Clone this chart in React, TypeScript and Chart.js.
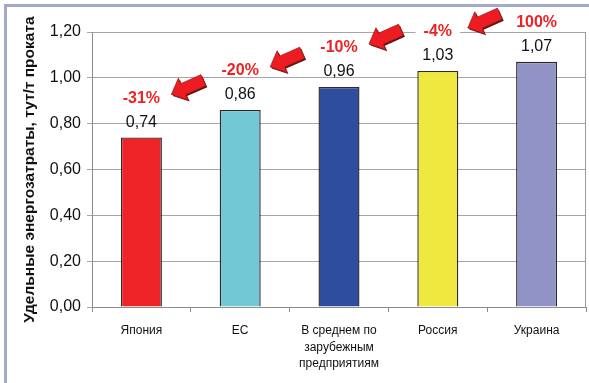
import React, { useEffect, useRef } from "react";
import { Chart, registerables } from "chart.js";

Chart.register(...registerables);

const categories: string[][] = [
  ["Япония"],
  ["ЕС"],
  ["В среднем по", "зарубежным", "предприятиям"],
  ["Россия"],
  ["Украина"],
];
const values: number[] = [0.74, 0.86, 0.96, 1.03, 1.07];
const valueLabels: string[] = ["0,74", "0,86", "0,96", "1,03", "1,07"];
const changeLabels: string[] = ["-31%", "-20%", "-10%", "-4%", "100%"];
const barColors: string[] = ["#ee2326", "#72c9d5", "#2e4d9e", "#efe83f", "#9192c6"];
const yTitle = "Удельные энергозатраты, тут/т проката";

const FONT = "'Liberation Sans', Arial, sans-serif";

function drawArrow(ctx: CanvasRenderingContext2D, tx: number, ty: number) {
  const L = 35, H = 13, hw = 12, sw = 6;
  const pts: [number, number][] = [
    [0, 0], [H, -hw], [H, -sw], [L, -sw], [L, sw], [H, sw], [H, hw],
  ];
  const ang = (-24 * Math.PI) / 180;
  const path = (dx: number, dy: number) => {
    ctx.beginPath();
    pts.forEach(([px, py], k) => {
      const x = tx + dx + px * Math.cos(ang) - py * Math.sin(ang);
      const y = ty + dy + px * Math.sin(ang) + py * Math.cos(ang);
      if (k === 0) ctx.moveTo(x, y);
      else ctx.lineTo(x, y);
    });
    ctx.closePath();
  };
  ctx.save();
  path(1.5, 1.5);
  ctx.fillStyle = "#5e1414";
  ctx.fill();
  path(0, 0);
  ctx.fillStyle = "#ec1c22";
  ctx.fill();
  ctx.strokeStyle = "#a81818";
  ctx.lineWidth = 0.8;
  ctx.stroke();
  ctx.restore();
}

const overlay = {
  id: "overlay",
  beforeDraw(chart: any) {
    const ctx = chart.ctx as CanvasRenderingContext2D;
    ctx.save();
    ctx.fillStyle = "#ffffff";
    ctx.fillRect(0, 0, chart.width, chart.height);
    ctx.fillStyle = "#a3a9cb";
    ctx.fillRect(4, 4, chart.width - 4, 3);
    ctx.fillRect(4, 4, 3, chart.height - 4);
    ctx.restore();
  },
  afterDraw(chart: any) {
    const ctx = chart.ctx as CanvasRenderingContext2D;
    const area = chart.chartArea;
    ctx.save();
    ctx.strokeStyle = "#9a9a9a";
    ctx.lineWidth = 1;
    ctx.beginPath();
    ctx.moveTo(Math.round(area.right) - 0.5, area.top);
    ctx.lineTo(Math.round(area.right) - 0.5, area.bottom);
    ctx.stroke();

    const meta = chart.getDatasetMeta(0);
    const n = meta.data.length;
    meta.data.forEach((bar: any, i: number) => {
      const x = bar.x;
      const y = bar.y;
      ctx.textAlign = "center";
      ctx.textBaseline = "middle";
      ctx.font = `16px ${FONT}`;
      ctx.fillStyle = "#111111";
      ctx.fillText(valueLabels[i], x, y - 15);

      const py = y - 39;
      ctx.font = `bold 16px ${FONT}`;
      const w = ctx.measureText(changeLabels[i]).width;
      if (i < n - 1) {
        ctx.fillStyle = "#ffffff";
        ctx.fillRect(x - w / 2 - 8, py - 6, w + 16, 12);
      }
      ctx.fillStyle = "#ee2224";
      ctx.fillText(changeLabels[i], x, py);

      if (i < n - 1) drawArrow(ctx, x + 30, y - 43);
    });
    ctx.restore();
  },
};

export default function App() {
  const ref = useRef<HTMLCanvasElement | null>(null);
  useEffect(() => {
    if (!ref.current) return;
    const chart = new Chart(ref.current, {
      type: "bar",
      data: {
        labels: categories,
        datasets: [
          {
            data: values,
            backgroundColor: barColors,
            borderColor: "#2a2a2a",
            borderWidth: 1.4,
            categoryPercentage: 1,
            barPercentage: 0.415,
          },
        ],
      },
      options: {
        responsive: false,
        animation: false,
        layout: { padding: { left: 0, top: 32, right: 3, bottom: 0 } },
        plugins: {
          legend: { display: false },
          tooltip: { enabled: false },
        },
        scales: {
          x: {
            offset: true,
            grid: {
              offset: true,
              drawOnChartArea: false,
              drawTicks: true,
              tickLength: 5,
              color: "#8c8c8c",
            },
            border: { color: "#8c8c8c" },
            ticks: {
              color: "#111111",
              padding: 10,
              maxRotation: 0,
              autoSkip: false,
              font: { family: FONT, size: 12, lineHeight: 1.4 },
            },
            afterFit: (scale: any) => {
              scale.height = 76;
            },
          },
          y: {
            min: 0,
            max: 1.2,
            ticks: {
              stepSize: 0.2,
              color: "#111111",
              padding: 6,
              font: { family: FONT, size: 16 },
              callback: (v: any) => Number(v).toFixed(2).replace(".", ","),
            },
            grid: { color: "#a6a6a6", tickLength: 5 },
            border: { color: "#8c8c8c" },
            title: {
              display: true,
              text: yTitle,
              color: "#111111",
              font: { family: FONT, size: 15.5, weight: "bold" },
              padding: { top: 20, bottom: 0 },
            },
            afterFit: (scale: any) => {
              scale.width = 92;
            },
          },
        },
      },
      plugins: [overlay],
    });
    return () => chart.destroy();
  }, []);
  return (
    <div style={{ position: "fixed", left: 0, top: 0, width: 589, height: 383 }}>
      <canvas ref={ref} width={589} height={383} />
    </div>
  );
}
